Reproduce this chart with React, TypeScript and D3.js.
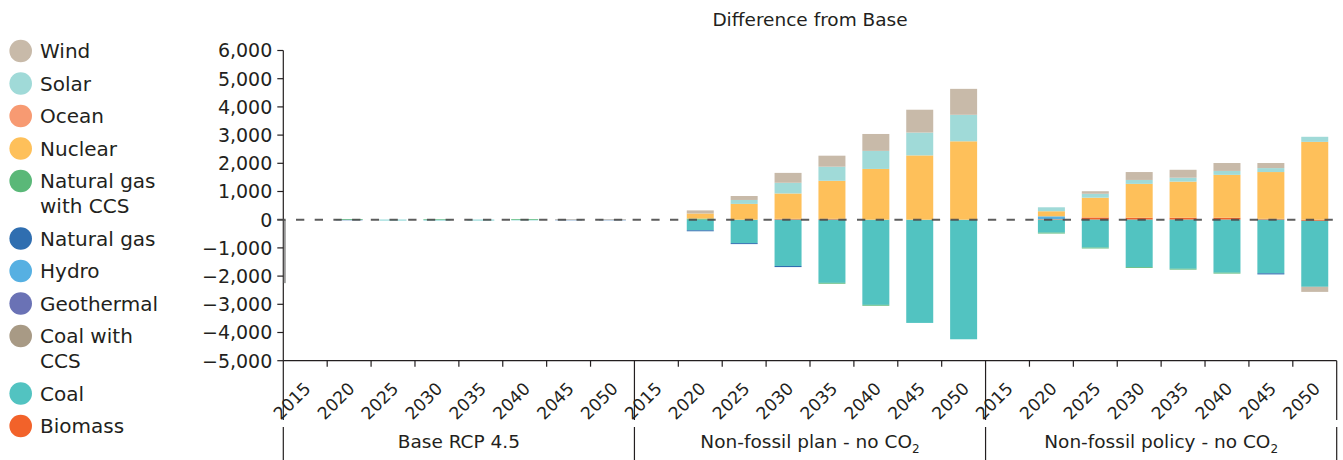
import React from 'react';
import * as d3 from 'd3';

const YEARS = ['2015', '2020', '2025', '2030', '2035', '2040', '2045', '2050'];
const GROUPS = ['Base RCP 4.5', 'Non-fossil plan - no CO2', 'Non-fossil policy - no CO2'];

// Stacking order (first = nearest to zero)
const SERIES = ['Biomass', 'Coal', 'Coal with CCS', 'Geothermal', 'Hydro', 'Natural gas',
  'Natural gas with CCS', 'Nuclear', 'Ocean', 'Solar', 'Wind'];
const COLORS = ['#f2622a', '#52c3c1', '#a89a85', '#6a72b5', '#56b0e2', '#2f6eb0',
  '#5ab878', '#fec05a', '#f79a72', '#a0dad8', '#c8baa9'];

// 24 categories: Base (8), Non-fossil plan (8), Non-fossil policy (8)
const biomass = [0, 0, 0, 0, 0, 0, 0, 0, 0, 0, 0, 30, 30, 0, 0, 0, 0, 20, 80, 70, 70, 70, 30, -40];
const coal = [0, 0, -25, -25, -25, -20, 0, 0, 0, -375, -830, -1640, -2240, -3020, -3660, -4240, 0, -460, -990, -1680, -1740, -1880, -1900, -2340];
const coalCCS = [0, 0, 0, 0, 0, 0, 0, 0, 0, 0, 0, 0, 0, 0, 0, 0, 0, 0, 0, 0, 0, 0, 0, 0];
const geothermal = [0, 0, 0, 0, 0, 0, 0, 0, 0, 0, 0, 0, 0, 0, 0, 0, 0, 0, 0, 0, 0, 0, 0, 0];
const hydro = [0, 0, 0, 0, 0, 0, 0, 0, 0, 0, 0, 0, 0, 0, 0, 0, 0, 100, 0, 0, 0, 0, 0, 0];
const naturalGas = [0, -20, 0, 0, 0, 0, -20, -20, 0, -35, -35, -40, 0, 0, 0, 0, 0, 0, 0, 0, 0, 0, -40, 0];
const naturalGasCCS = [0, 25, 0, 20, 0, 25, 0, 0, 0, 40, 0, 0, -30, -30, 0, 0, 0, -30, -30, -30, -30, -30, 0, 0];
const nuclear = [0, 0, 0, 0, 0, 0, 0, 0, 0, 180, 560, 900, 1350, 1800, 2280, 2780, 0, 180, 700, 1200, 1280, 1520, 1660, 2760];
const ocean = [0, 0, 0, 0, 0, 0, 0, 0, 0, 0, 0, 0, 0, 0, 0, 0, 0, 0, 0, 0, 0, 0, 0, 0];
const solar = [0, 0, 0, 0, 0, 0, 0, 0, 0, 0, 140, 380, 500, 640, 810, 940, 0, 140, 140, 140, 140, 140, 140, 180];
const wind = [0, 0, 0, 0, 0, 0, 20, 20, 0, 110, 140, 350, 390, 600, 810, 920, 0, 0, 90, 280, 280, 280, 180, -180];

const VALUES = [biomass, coal, coalCCS, geothermal, hydro, naturalGas, naturalGasCCS, nuclear, ocean, solar, wind];

const Y_TICKS = [6000, 5000, 4000, 3000, 2000, 1000, 0, -1000, -2000, -3000, -4000, -5000];
const ARTIFACT_VALUE = -2250;

const LEGEND_LABELS: Record<string, string[]> = {
  'Natural gas with CCS': ['Natural gas', 'with CCS'],
  'Coal with CCS': ['Coal with', 'CCS'],
};

const FONT = '"DejaVu Sans", Verdana, sans-serif';
const INK = '#231f20';

function GroupLabel({ text, x, y }: { text: string; x: number; y: number }) {
  const parts = text.split('CO2');
  if (parts.length === 1) {
    return <text x={x} y={y} textAnchor="middle" fontSize={18.5} fill={INK}>{text}</text>;
  }
  return (
    <text x={x} y={y} textAnchor="middle" fontSize={18.5} fill={INK}>
      {parts[0]}CO<tspan dy={5} fontSize={12}>2</tspan>
    </text>
  );
}

export default function App() {
  const W = 1343, H = 460;
  const x0 = 283.3, x1 = 1336.7, yTop = 50.5, yBot = 360.7;
  const cats = GROUPS.flatMap((_, gi) => YEARS.map(yr => `${gi}-${yr}`));
  const x = d3.scaleBand<string>().domain(cats).range([x0, x1]).paddingInner(0.385).paddingOuter(0.1925);
  const y = d3.scaleLinear().domain([-5000, 6000]).range([yBot, yTop]);
  const step = x.step();

  const rows = cats.map((c, i) => {
    const r: any = { cat: c };
    SERIES.forEach((s, j) => { r[s] = VALUES[j][i]; });
    return r;
  });
  const layers = d3.stack<any>().keys(SERIES).offset(d3.stackOffsetDiverging)(rows);

  const fmt = d3.format(',');
  const legendItems = [...SERIES].map((s, i) => ({ s, c: COLORS[i] })).reverse();
  let ly = 51;
  const legendPos = legendItems.map(it => {
    const lines = LEGEND_LABELS[it.s] || [it.s];
    const pos = { ...it, lines, cy: ly };
    ly += 32.5 + (lines.length - 1) * 25;
    return pos;
  });

  const boundaries = d3.range(0, cats.length + 1).map(k => x0 + k * step);

  return (
    <svg width={W} height={H} style={{ position: 'absolute', left: 0, top: 0, background: '#fff' }}
      fontFamily={FONT}>
      <rect x={0} y={0} width={W} height={H} fill="#fff" />
      {/* title */}
      <text x={(x0 + x1) / 2} y={26} textAnchor="middle" fontSize={18.5} fill={INK}>Difference from Base</text>

      {/* bars */}
      {layers.map((layer, li) => (
        <g key={layer.key} fill={COLORS[li]}>
          {layer.map((d, i) => {
            const h = Math.abs(y(d[0]) - y(d[1]));
            if (!h) return null;
            return <rect key={i} x={x(cats[i])} y={Math.min(y(d[0]), y(d[1]))} width={x.bandwidth()} height={h} />;
          })}
        </g>
      ))}

      {/* y axis */}
      <line x1={x0} x2={x0} y1={y(6000)} y2={y(-5000)} stroke={INK} strokeWidth={1.2} />
      <line x1={x0 + 1.5} x2={x0 + 1.5} y1={y(0)} y2={y(ARTIFACT_VALUE)} stroke="#9a9a9a" strokeWidth={2} />
      {Y_TICKS.map(t => (
        <g key={t}>
          <line x1={x0 - 6} x2={x0} y1={y(t)} y2={y(t)} stroke={INK} strokeWidth={1.2} />
          <text x={x0 - 11} y={y(t) + 6.8} textAnchor="end" fontSize={19} fill={INK}>{fmt(t)}</text>
        </g>
      ))}

      {/* zero dashed line */}
      <line x1={x0 - 6} x2={x1} y1={y(0)} y2={y(0)} stroke="#4a4a4a" strokeOpacity={0.9} strokeWidth={2}
        strokeDasharray="8.3 10.4" />

      {/* x axis */}
      <line x1={x0} x2={x1} y1={yBot} y2={yBot} stroke={INK} strokeWidth={1.2} />
      {boundaries.map((bx, k) => {
        const major = k % YEARS.length === 0;
        if (!major) {
          return <line key={k} x1={bx} x2={bx} y1={yBot} y2={yBot + 6} stroke={INK} strokeWidth={1.2} />;
        }
        return (
          <g key={k}>
            <line x1={bx} x2={bx} y1={yBot} y2={420} stroke={INK} strokeWidth={1.2} />
            <line x1={bx} x2={bx} y1={427} y2={H} stroke={INK} strokeWidth={1.2} />
          </g>
        );
      })}

      {/* year labels */}
      {cats.map((c, i) => {
        const cx = (x(c) as number) + x.bandwidth() / 2;
        const ax = cx + 6.5;
        const ay = yBot + 29;
        return (
          <text key={c} transform={`translate(${ax},${ay}) rotate(-45)`} textAnchor="end" fontSize={17.2} fill={INK}>
            {YEARS[i % YEARS.length]}
          </text>
        );
      })}

      {/* group labels */}
      {GROUPS.map((g, gi) => (
        <GroupLabel key={g} text={g} x={(boundaries[gi * 8] + boundaries[gi * 8 + 8]) / 2} y={448} />
      ))}

      {/* legend */}
      {legendPos.map(it => (
        <g key={it.s}>
          <circle cx={20.7} cy={it.cy} r={11.3} fill={it.c} />
          {it.lines.map((ln, k) => (
            <text key={k} x={40} y={it.cy + 7.2 + k * 25} fontSize={20} fill={INK}>{ln}</text>
          ))}
        </g>
      ))}
    </svg>
  );
}
